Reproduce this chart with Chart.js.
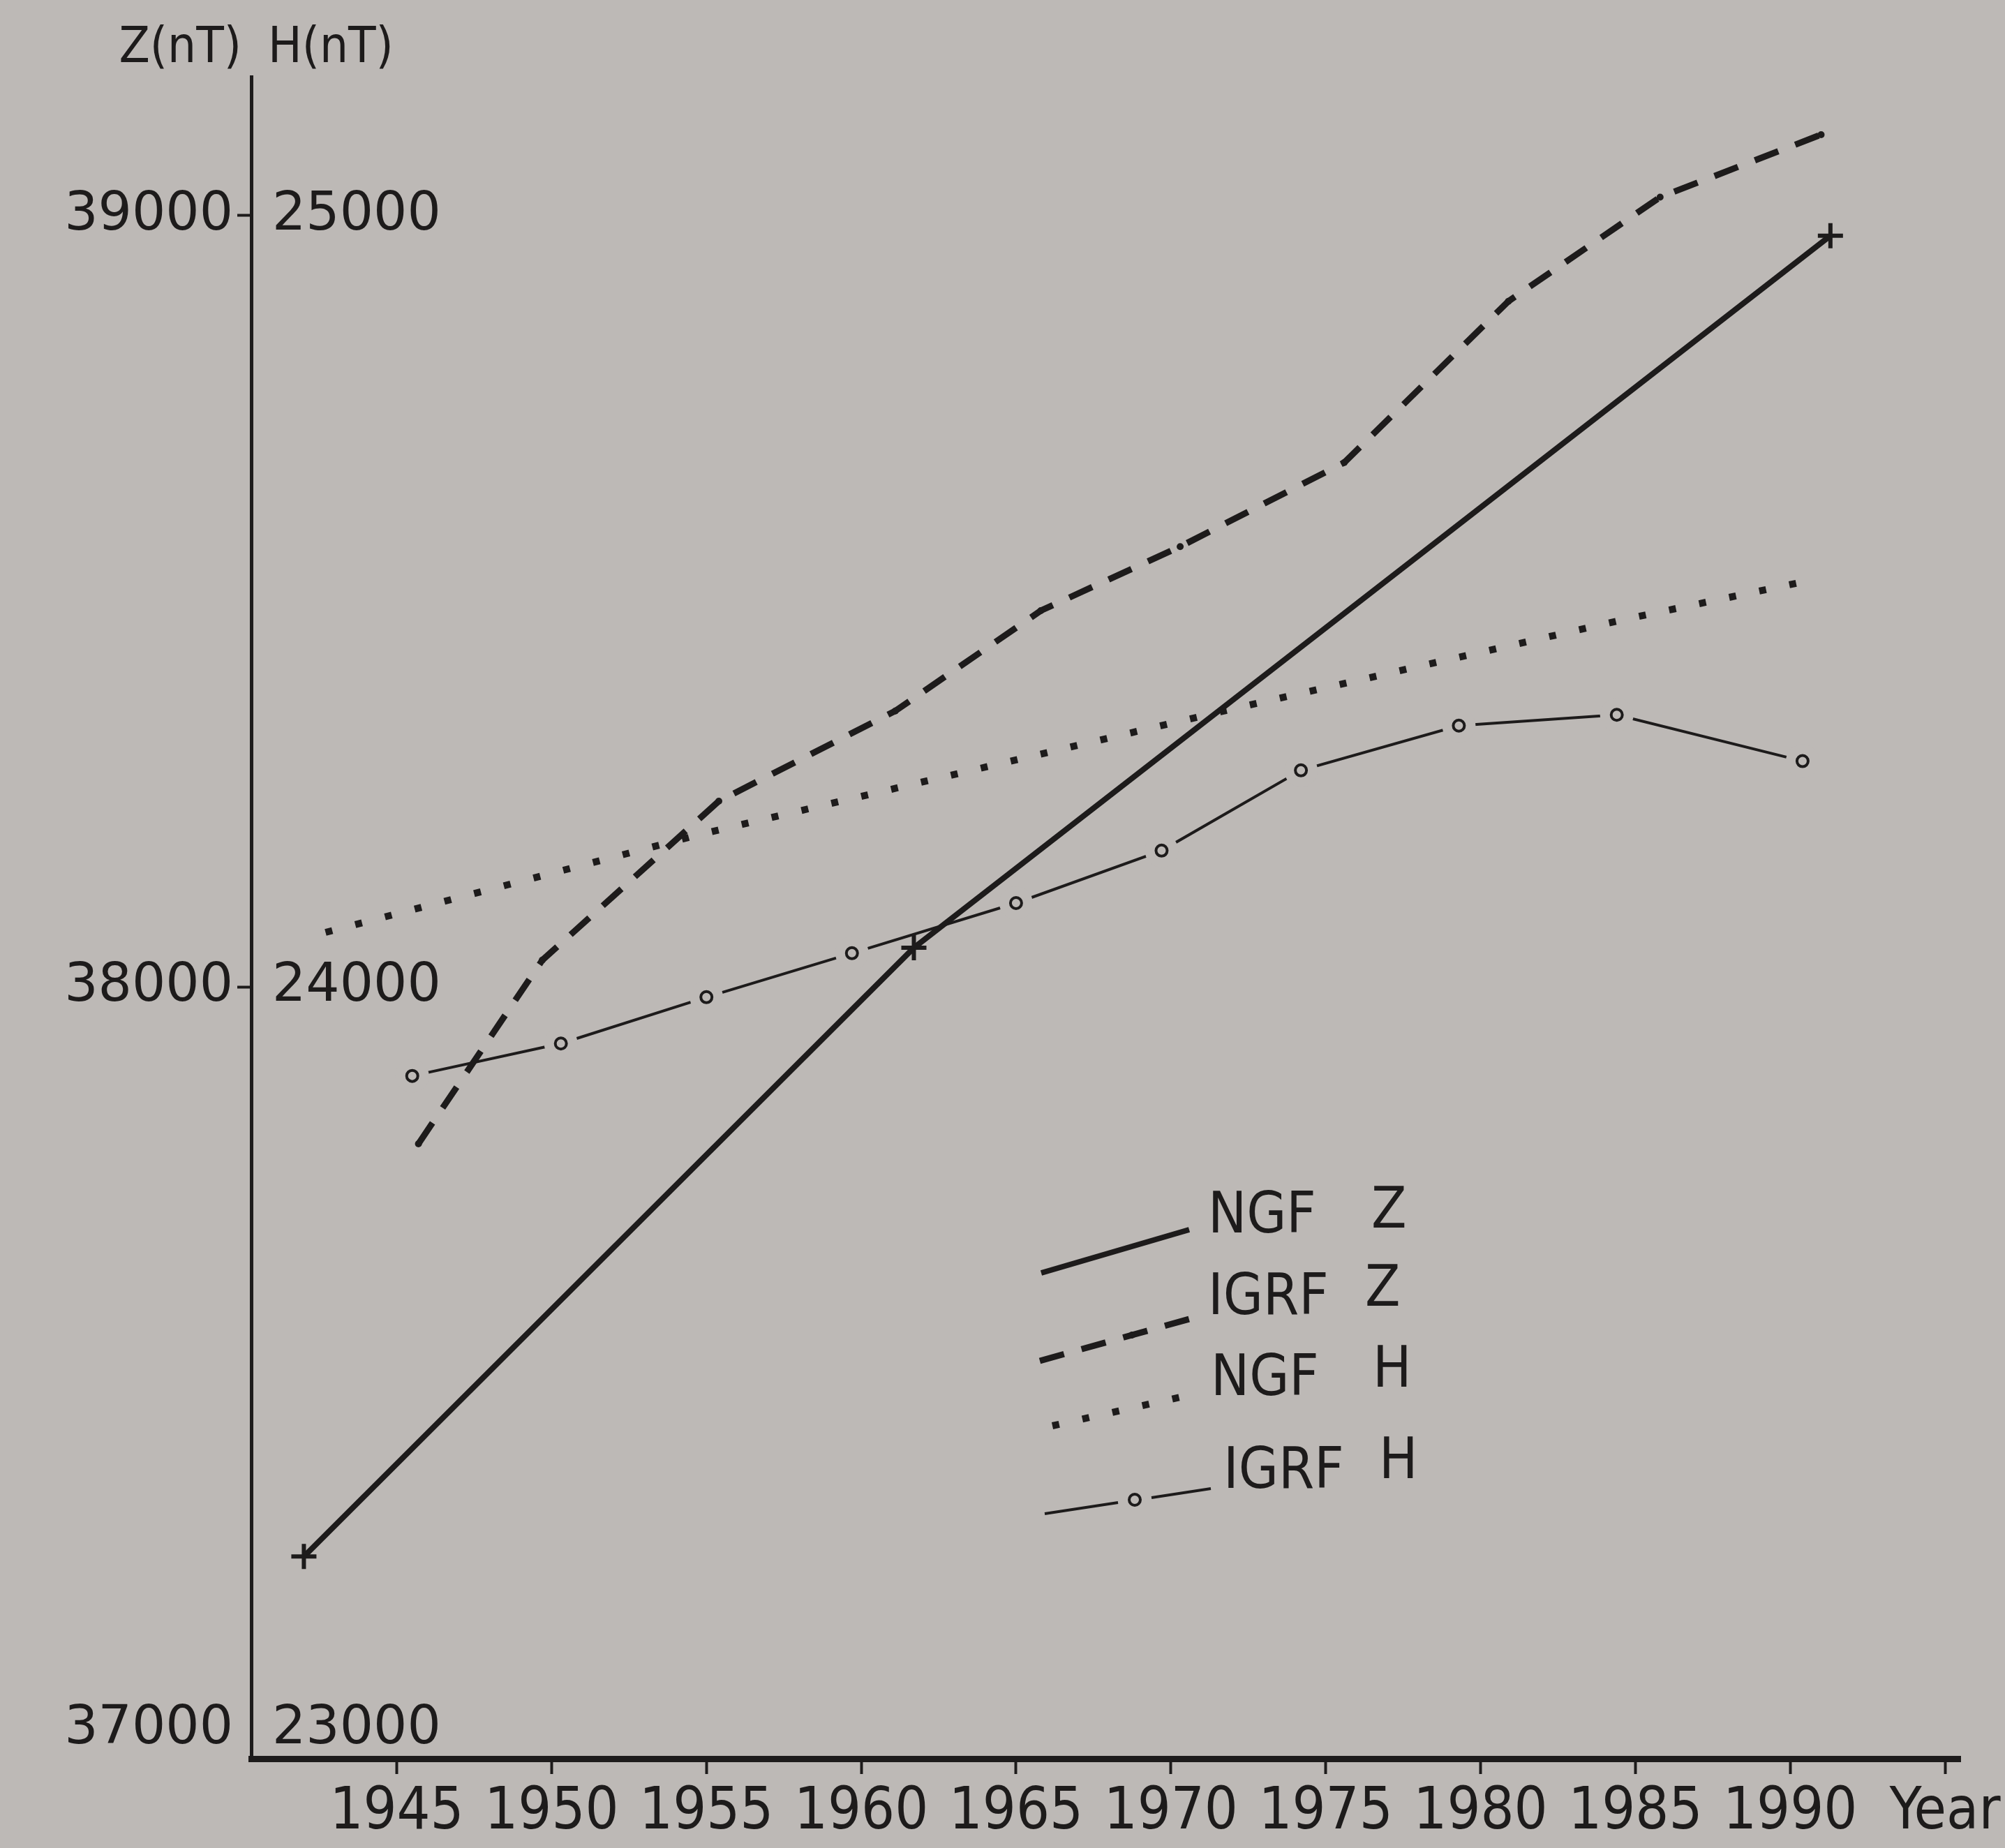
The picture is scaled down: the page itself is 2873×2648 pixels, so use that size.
<!DOCTYPE html>
<html>
<head>
<meta charset="utf-8">
<title>NGF / IGRF Z and H</title>
<script src="https://cdn.jsdelivr.net/npm/chart.js@4.4.1/dist/chart.umd.min.js"></script>
<style>
  html, body { margin: 0; padding: 0; background: #bdb9b6; }
  #wrap { width: 2873px; height: 2648px; }
</style>
</head>
<body>
<div id="wrap"><canvas id="chart" width="2873" height="2648"></canvas></div>
<script>
// values (years, nT)
const ngfZYears = [1942.0, 1961.7, 1991.3];
const ngfZValues = [37262, 38051, 38974];

const igrfZYears = [1945.7, 1949.7, 1955.4, 1961.1, 1965.8, 1970.3, 1975.6, 1980.9, 1985.8, 1991.0];
const igrfZValues = [37797, 38035, 38241, 38358, 38488, 38571, 38680, 38889, 39024, 39105];

const ngfHYears = [1942.7, 1955.0, 1971.6, 1984.8, 1990.5];
const ngfHValues = [24071, 24200, 24357, 24478, 24526];

const igrfHYears = [1945.5, 1950.3, 1955.0, 1959.7, 1965.0, 1969.7, 1974.2, 1979.3, 1984.4, 1990.4];
const igrfHValues = [23885, 23927, 23987, 24044, 24109, 24177, 24281, 24339, 24353, 24293];

const yearTicks = [1945, 1950, 1955, 1960, 1965, 1970, 1975, 1980, 1985, 1990, 1995];
const yearLabels = ['1945', '1950', '1955', '1960', '1965', '1970', '1975', '1980', '1985', '1990', 'Year'];
const zTickLabels = [37000, 38000, 39000];
const hTickLabels = [23000, 24000, 25000];
const zTickMarks = [38000, 39000];

const legendNames = ['NGF', 'IGRF', 'NGF', 'IGRF'];
const legendComps = ['Z', 'Z', 'H', 'H'];

const ink = '#1d1b1b';
const paper = '#bdb9b6';
const narrow = '"Liberation Sans Narrow", "DejaVu Sans Condensed", "DejaVu Sans", sans-serif';

const toPoints = (xs, ys) => xs.map((x, i) => ({ x: x, y: ys[i] }));

// y labels, axis titles and the hand-drawn legend
const paperText = {
  id: 'paperText',
  afterDraw(chart) {
    const ctx = chart.ctx;
    const zs = chart.scales.yZ;
    const hs = chart.scales.yH;
    const axisX = chart.chartArea.left;
    ctx.save();
    ctx.fillStyle = ink;
    ctx.strokeStyle = ink;
    ctx.textBaseline = 'middle';

    ctx.font = '76px "DejaVu Sans", sans-serif';
    ctx.textAlign = 'right';
    zTickLabels.forEach(v => {
      let y = zs.getPixelForValue(v);
      if (v === zs.min) y -= 42;
      ctx.fillText(String(v), axisX - 26, y);
    });
    ctx.textAlign = 'left';
    hTickLabels.forEach(v => {
      let y = hs.getPixelForValue(v);
      if (v === hs.min) y -= 42;
      ctx.fillText(String(v), axisX + 30, y);
    });

    ctx.font = '72px ' + narrow;
    ctx.textAlign = 'right';
    ctx.fillText('Z(nT)', axisX - 14, chart.chartArea.top - 40);
    ctx.textAlign = 'left';
    ctx.fillText('H(nT)', axisX + 24, chart.chartArea.top - 40);

    // legend samples
    ctx.lineCap = 'butt';
    // NGF Z
    ctx.lineWidth = 8;
    ctx.setLineDash([]);
    ctx.beginPath(); ctx.moveTo(1492, 1824); ctx.lineTo(1704, 1762); ctx.stroke();
    // IGRF Z
    ctx.lineWidth = 9;
    ctx.setLineDash([36, 26]);
    ctx.beginPath(); ctx.moveTo(1490, 1950); ctx.lineTo(1704, 1890); ctx.stroke();
    ctx.setLineDash([]);
    ctx.beginPath(); ctx.arc(1622, 1913, 5, 0, Math.PI * 2); ctx.fill();
    // NGF H
    ctx.lineWidth = 10;
    ctx.setLineDash([10, 34]);
    ctx.beginPath(); ctx.moveTo(1508, 2043); ctx.lineTo(1700, 2000); ctx.stroke();
    // IGRF H
    ctx.setLineDash([]);
    ctx.lineWidth = 4;
    ctx.beginPath(); ctx.moveTo(1497, 2169); ctx.lineTo(1602, 2153); ctx.stroke();
    ctx.beginPath(); ctx.moveTo(1650, 2146); ctx.lineTo(1735, 2133); ctx.stroke();
    ctx.beginPath(); ctx.arc(1626, 2149, 8, 0, Math.PI * 2);
    ctx.fillStyle = paper; ctx.fill(); ctx.stroke();
    ctx.fillStyle = ink;

    const textPos = [[1731, 1745, 1965, 1738], [1731, 1862, 1956, 1850], [1735, 1978, 1967, 1966], [1753, 2111, 1976, 2097]];
    ctx.font = '82px ' + narrow;
    ctx.textAlign = 'left';
    legendNames.forEach((name, i) => {
      const p = textPos[i];
      ctx.fillText(name, p[0], p[1]);
      ctx.fillText(legendComps[i], p[2], p[3]);
    });
    ctx.restore();
  }
};

new Chart(document.getElementById('chart'), {
  type: 'line',
  data: {
    datasets: [
      {
        label: 'NGF Z',
        data: toPoints(ngfZYears, ngfZValues),
        yAxisID: 'yZ',
        borderColor: ink,
        borderWidth: 8,
        pointStyle: 'cross',
        pointRadius: 18,
        pointBorderWidth: 6,
        pointBorderColor: ink,
        order: 1
      },
      {
        label: 'IGRF Z',
        data: toPoints(igrfZYears, igrfZValues),
        yAxisID: 'yZ',
        borderColor: ink,
        borderWidth: 9,
        borderDash: [36, 26],
        pointRadius: 5,
        pointBorderWidth: 0,
        pointBackgroundColor: ink,
        order: 2
      },
      {
        label: 'NGF H',
        data: toPoints(ngfHYears, ngfHValues),
        yAxisID: 'yH',
        borderColor: ink,
        borderWidth: 10,
        borderDash: [10, 34],
        pointRadius: 0,
        order: 3
      },
      {
        // line with gaps round the circles (paper-coloured discs)
        label: 'IGRF H',
        data: toPoints(igrfHYears, igrfHValues),
        yAxisID: 'yH',
        borderColor: ink,
        borderWidth: 4,
        pointRadius: 24,
        pointBorderWidth: 0,
        pointBackgroundColor: paper,
        order: 5
      },
      {
        label: 'IGRF H points',
        data: toPoints(igrfHYears, igrfHValues),
        yAxisID: 'yH',
        showLine: false,
        pointRadius: 8,
        pointBorderWidth: 4,
        pointBorderColor: ink,
        pointBackgroundColor: paper,
        order: 0
      }
    ]
  },
  options: {
    responsive: false,
    animation: false,
    events: [],
    layout: { padding: { left: 320, top: 110, right: 63, bottom: 0 } },
    plugins: { legend: { display: false }, tooltip: { enabled: false } },
    scales: {
      x: {
        type: 'linear',
        position: 'bottom',
        min: 1940.3,
        max: 1995.5,
        afterBuildTicks: s => { s.ticks = yearTicks.map(v => ({ value: v })); },
        afterFit: s => { s.height = 128; },
        border: { display: true, color: ink, width: 9 },
        grid: { drawOnChartArea: false, drawTicks: true, tickLength: 22, tickWidth: 4, tickColor: ink, color: ink },
        ticks: {
          autoSkip: false,
          maxRotation: 0,
          padding: 6,
          color: ink,
          font: { family: narrow, size: 84 },
          callback: (v, i) => yearLabels[i]
        }
      },
      yZ: {
        type: 'linear',
        position: 'left',
        min: 37000,
        max: 39180,
        afterBuildTicks: s => { s.ticks = zTickMarks.map(v => ({ value: v })); },
        afterFit: s => { s.width = 40; },
        border: { display: true, color: ink, width: 5 },
        grid: { drawOnChartArea: false, drawTicks: true, tickLength: 20, tickWidth: 4, tickColor: ink, color: ink },
        ticks: { display: false }
      },
      yH: {
        type: 'linear',
        position: 'left',
        min: 23000,
        max: 25180,
        display: false
      }
    }
  },
  plugins: [paperText]
});
</script>
</body>
</html>
